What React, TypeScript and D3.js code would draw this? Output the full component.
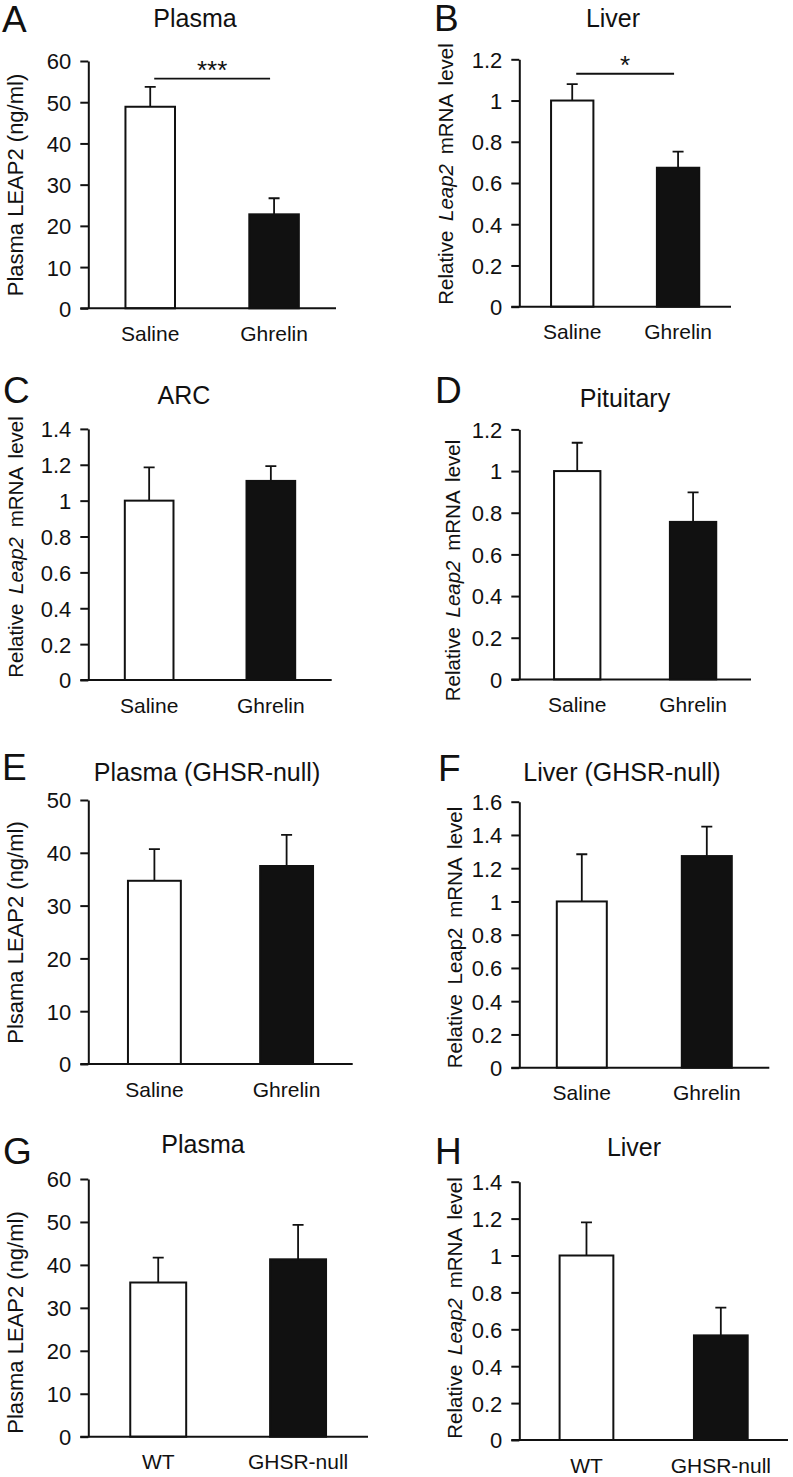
import React, { useEffect, useRef } from 'react';
import * as d3 from 'd3';

// ---- data ----
const panelLetters = ['A', 'B', 'C', 'D', 'E', 'F', 'G', 'H'];
const panelTitles = ['Plasma', 'Liver', 'ARC', 'Pituitary', 'Plasma (GHSR-null)', 'Liver (GHSR-null)', 'Plasma', 'Liver'];

const treatmentGroups = ['Saline', 'Ghrelin'];
const genotypeGroups = ['WT', 'GHSR-null'];
const panelGroups = [
  treatmentGroups, treatmentGroups, treatmentGroups, treatmentGroups,
  treatmentGroups, treatmentGroups, genotypeGroups, genotypeGroups,
];

const meanValues = [
  [48.9, 22.8],
  [1.0, 0.674],
  [1.0, 1.11],
  [1.0, 0.756],
  [34.7, 37.5],
  [1.0, 1.273],
  [35.9, 41.3],
  [1.0, 0.567],
];
const semValues = [
  [4.8, 3.9],
  [0.08, 0.078],
  [0.186, 0.082],
  [0.136, 0.142],
  [6.0, 5.9],
  [0.284, 0.177],
  [5.8, 8.0],
  [0.18, 0.15],
];

const ticks60 = [0, 10, 20, 30, 40, 50, 60];
const ticks50 = [0, 10, 20, 30, 40, 50];
const ticks12 = [0, 0.2, 0.4, 0.6, 0.8, 1, 1.2];
const ticks14 = [0, 0.2, 0.4, 0.6, 0.8, 1, 1.2, 1.4];
const ticks16 = [0, 0.2, 0.4, 0.6, 0.8, 1, 1.2, 1.4, 1.6];
const yTicks = [ticks60, ticks12, ticks14, ticks12, ticks50, ticks16, ticks60, ticks14];

// words between | | are italic
const yLabels = [
  'Plasma LEAP2 (ng/ml)',
  'Relative |Leap2| mRNA level',
  'Relative |Leap2| mRNA level',
  'Relative |Leap2| mRNA level',
  'Plsama LEAP2 (ng/ml)',
  'Relative Leap2 mRNA level',
  'Plasma LEAP2 (ng/ml)',
  'Relative |Leap2| mRNA level',
];

const sigPanels = [0, 1];
const sigLevels = [55.7, 1.13];
const sigStars = ['***', '*'];

// ---- layout (pixels) ----
const layout = [
  { axisX: 88.3, axisEnd: 336, yTop: 61, y0: 308.3, letter: [2, 32], title: [195, 26.7], yLab: [23.3, 185] },
  { axisX: 519.3, axisEnd: 731, yTop: 59.3, y0: 306.7, letter: [434, 30.5], title: [613, 26.7], yLab: [453.3, 174] },
  { axisX: 88.3, axisEnd: 331.7, yTop: 428.9, y0: 680, letter: [3, 403], title: [184, 404], yLab: [23.3, 547] },
  { axisX: 519.3, axisEnd: 751, yTop: 429.4, y0: 679.4, letter: [435, 403], title: [625, 407], yLab: [460, 570.5] },
  { axisX: 88.3, axisEnd: 352.7, yTop: 800, y0: 1064, letter: [2, 780], title: [207, 781], yLab: [23.3, 932.5] },
  { axisX: 519.3, axisEnd: 769.3, yTop: 801.7, y0: 1067.7, letter: [438, 780.7], title: [622, 781], yLab: [461.7, 937.5] },
  { axisX: 88.3, axisEnd: 368, yTop: 1179, y0: 1436.7, letter: [3, 1164], title: [203, 1152.7], yLab: [23.3, 1322.5] },
  { axisX: 519.3, axisEnd: 788, yTop: 1181.7, y0: 1440, letter: [435, 1164], title: [634, 1156], yLab: [461.7, 1308] },
];

const W = 793;
const H = 1477;
const INK = '#111';
const FONT = '"Liberation Sans", Arial, sans-serif';
const fmt = (d: number) => String(+d.toFixed(1));

export default function App() {
  const svgRef = useRef<SVGSVGElement>(null);

  useEffect(() => {
    if (!svgRef.current) return;
    const root = d3.select(svgRef.current);
    root.selectAll('*').remove();
    root.attr('font-family', FONT).attr('fill', INK);

    panelLetters.forEach((letter, i) => {
      const L = layout[i];
      const groups = panelGroups[i];
      const ticks = yTicks[i];
      const g = root.append('g');

      const x = d3
        .scaleBand<string>()
        .domain(groups)
        .range([L.axisX, L.axisEnd])
        .paddingInner(0.6)
        .paddingOuter(0.3);

      const y = d3
        .scaleLinear()
        .domain([0, ticks[ticks.length - 1]])
        .range([L.y0, L.yTop]);

      // panel letter + title
      g.append('text')
        .attr('x', L.letter[0])
        .attr('y', L.letter[1])
        .attr('font-size', 37)
        .text(letter);

      g.append('text')
        .attr('x', L.title[0])
        .attr('y', L.title[1])
        .attr('text-anchor', 'middle')
        .attr('font-size', 25)
        .text(panelTitles[i]);

      // bars
      const rows = groups.map((name, k) => ({ name, mean: meanValues[i][k], sem: semValues[i][k], k }));

      g.selectAll('.err')
        .data(rows)
        .enter()
        .append('path')
        .attr('d', d => {
          const cx = (x(d.name) || 0) + x.bandwidth() / 2;
          const top = y(d.mean + d.sem);
          return `M${cx},${y(d.mean)}V${top}M${cx - 5.5},${top}H${cx + 5.5}`;
        })
        .attr('fill', 'none')
        .attr('stroke', INK)
        .attr('stroke-width', 1.8);

      g.selectAll('.bar')
        .data(rows)
        .enter()
        .append('rect')
        .attr('x', d => x(d.name) || 0)
        .attr('y', d => y(d.mean))
        .attr('width', x.bandwidth())
        .attr('height', d => L.y0 - y(d.mean))
        .attr('fill', d => (d.k === 0 ? '#fff' : INK))
        .attr('stroke', INK)
        .attr('stroke-width', 2);

      // y axis
      const axis = g
        .append('g')
        .attr('transform', `translate(${L.axisX},0)`)
        .call(
          d3
            .axisLeft(y)
            .tickValues(ticks)
            .tickFormat(d => fmt(+d))
            .tickSize(8)
            .tickSizeOuter(0)
            .tickPadding(9)
        );
      axis.attr('font-family', FONT).attr('font-size', 22);
      axis.selectAll('path, line').attr('stroke', INK).attr('stroke-width', 2);
      axis.selectAll('text').attr('fill', INK).attr('dy', '0.36em');

      // x axis line
      g.append('line')
        .attr('x1', L.axisX - 8)
        .attr('x2', L.axisEnd)
        .attr('y1', L.y0)
        .attr('y2', L.y0)
        .attr('stroke', INK)
        .attr('stroke-width', 2);

      g.selectAll('.cat')
        .data(groups)
        .enter()
        .append('text')
        .attr('x', d => (x(d) || 0) + x.bandwidth() / 2)
        .attr('y', L.y0 + 32.5)
        .attr('text-anchor', 'middle')
        .attr('font-size', 21)
        .text(d => d);

      // y label
      const isPlasma = yLabels[i].startsWith('Pl');
      const lab = g
        .append('text')
        .attr('transform', `translate(${L.yLab[0]},${L.yLab[1]}) rotate(-90)`)
        .attr('text-anchor', 'middle')
        .attr('font-size', isPlasma ? 22 : 20.5)
        .attr('word-spacing', isPlasma ? 0 : 4);
      yLabels[i].split('|').forEach((part, j) => {
        lab.append('tspan')
          .attr('font-style', j % 2 === 1 ? 'italic' : 'normal')
          .text(part);
      });

      // significance
      const s = sigPanels.indexOf(i);
      if (s >= 0) {
        const x1 = (x(groups[0]) || 0) + x.bandwidth() / 2 + 4;
        const x2 = (x(groups[1]) || 0) + x.bandwidth() / 2 - 4;
        const ly = y(sigLevels[s]);
        g.append('line')
          .attr('x1', x1)
          .attr('x2', x2)
          .attr('y1', ly)
          .attr('y2', ly)
          .attr('stroke', INK)
          .attr('stroke-width', 1.8);
        g.append('text')
          .attr('x', (x1 + x2) / 2)
          .attr('y', ly + 0.5)
          .attr('text-anchor', 'middle')
          .attr('font-size', 26)
          .text(sigStars[s]);
      }
    });
  }, []);

  return (
    <svg
      ref={svgRef}
      width={W}
      height={H}
      style={{ position: 'absolute', left: 0, top: 0, background: '#fff' }}
    />
  );
}
